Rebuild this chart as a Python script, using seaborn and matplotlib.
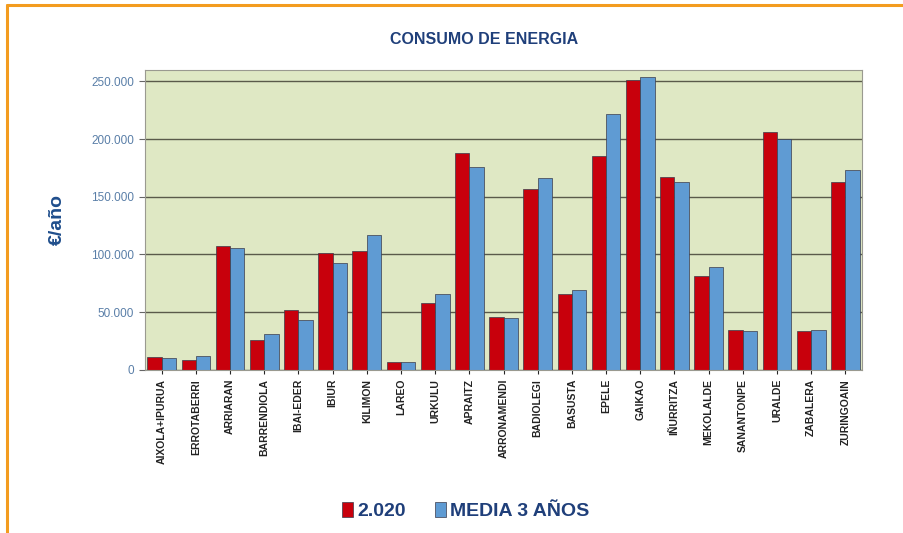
import pandas as pd
import matplotlib.pyplot as plt
import matplotlib.patches as mpatches
from matplotlib.ticker import FuncFormatter
import seaborn as sns

# DATA

centros = [
    'AIXOLA+IPURUA', 'ERROTABERRI', 'ARRIARAN', 'BARRENDIOLA', 'IBAI-EDER',
    'IBIUR', 'KILIMON', 'LAREO', 'URKULU', 'APRAITZ', 'ARRONAMENDI',
    'BADIOLEGI', 'BASUSTA', 'EPELE', 'GAIKAO', 'IÑURRITZA', 'MEKOLALDE',
    'SANANTONPE', 'URALDE', 'ZABALERA', 'ZURINGOAIN'
]
consumo_2020 = [
    11300, 8700, 107500, 26000, 52000, 101500, 103000, 7000, 58000, 187500,
    46000, 157000, 66000, 185000, 251000, 167000, 81500, 35000, 206000,
    34000, 163000
]
media_3_anos = [
    10400, 12000, 106000, 31000, 43000, 93000, 117000, 7000, 66000, 176000,
    45000, 166000, 69000, 222000, 254000, 163000, 89000, 34000, 200000,
    35000, 173000
]
series = ['2.020', 'MEDIA 3 AÑOS']
colores = ['#c8000c', '#5f9bd3']
y_ticks = [0, 50000, 100000, 150000, 200000, 250000]

df = pd.DataFrame({
    'centro': centros * 2,
    'valor': consumo_2020 + media_3_anos,
    'serie': [series[0]] * len(centros) + [series[1]] * len(centros),
})

# PLOT

sns.set_style('white')
plt.rcParams['font.family'] = ['Liberation Sans Narrow', 'Liberation Sans', 'DejaVu Sans']

fig = plt.figure(figsize=(9.04, 5.33), dpi=100)
ax = fig.add_axes([0.160, 0.306, 0.794, 0.563])

sns.barplot(
    data=df, x='centro', y='valor', hue='serie',
    palette=colores, saturation=1, width=0.84, ax=ax,
    edgecolor='#3a3a4a', linewidth=0.5, legend=False
)

ax.set_facecolor('#dfe8c4')
ax.set_ylim(0, 260000)
ax.set_xlim(-0.5, len(centros) - 0.5)
ax.set_yticks(y_ticks)
ax.yaxis.set_major_formatter(FuncFormatter(lambda v, p: f"{int(v):,}".replace(',', '.')))
ax.grid(axis='y', color='#5a5a4a', linewidth=1.0)
ax.set_axisbelow(True)
for s in ax.spines.values():
    s.set_color('#9a9a90')
    s.set_linewidth(0.8)

ax.tick_params(axis='y', labelsize=8.5, labelcolor='#5a7fa8', length=4, color='#666666', left=True)
ax.tick_params(axis='x', labelsize=7.5, labelcolor='#222222', length=3, bottom=True)
plt.setp(ax.get_xticklabels(), rotation=90, fontweight='bold')
ax.set_xlabel('')
ax.set_ylabel('€/año', fontsize=14, fontweight='bold', color='#1f4e8c', labelpad=18)

fig.text(0.535, 0.925, 'CONSUMO DE ENERGIA', ha='center', va='center',
         fontsize=11.5, fontweight='bold', color='#1f3f7a')

handles = [mpatches.Patch(facecolor=c, edgecolor='#3a3a4a', linewidth=0.5, label=s)
           for c, s in zip(colores, series)]
fig.legend(handles=handles, loc='center', bbox_to_anchor=(0.515, 0.041), ncol=2,
           frameon=False, prop={'size': 14, 'weight': 'bold'},
           handlelength=0.6, handleheight=0.8, handletextpad=0.2, columnspacing=1.5,
           labelcolor='#1f3f7a')

# orange frame (left and top edges)
fig.add_artist(plt.Line2D([0.008, 0.008], [0.0, 0.99], color='#f39c1f', linewidth=2.2,
                          transform=fig.transFigure))
fig.add_artist(plt.Line2D([0.008, 1.0], [0.99, 0.99], color='#f39c1f', linewidth=2.2,
                          transform=fig.transFigure))

plt.savefig('out.png', dpi=100)
